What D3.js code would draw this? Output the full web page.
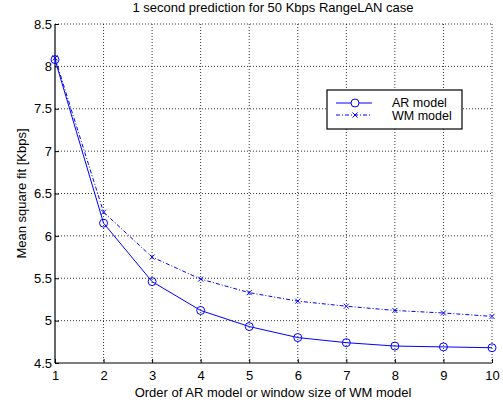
<!DOCTYPE html>
<html>
<head>
<meta charset="utf-8">
<script src="https://cdn.jsdelivr.net/npm/d3@7"></script>
<style>
  body { margin: 0; background: #fff; }
  text { font-family: "Liberation Sans", Arial, sans-serif; fill: #000; }
</style>
</head>
<body>
<script>
// data
var orders = [1, 2, 3, 4, 5, 6, 7, 8, 9, 10];
var arModel = [8.08, 6.15, 5.46, 5.12, 4.93, 4.80, 4.74, 4.70, 4.69, 4.68];
var wmModel = [8.10, 6.28, 5.75, 5.49, 5.33, 5.23, 5.17, 5.12, 5.09, 5.05];
var yTicks = [4.5, 5, 5.5, 6, 6.5, 7, 7.5, 8, 8.5];

var W = 503, H = 405;
// plot box (note: "top" is reserved on window, so use pTop etc)
var pLeft = 55, pRight = 492, pTop = 24, pBottom = 363;
var fs = 13;

var svg = d3.select('body').append('svg')
    .attr('width', W).attr('height', H);

var x = d3.scaleLinear().domain([1, 10]).range([pLeft, pRight]);
var y = d3.scaleLinear().domain([4.5, 8.5]).range([pBottom, pTop]);

// grid (dotted), incl. top and right edges
svg.append('g').selectAll('line').data(orders.slice(1)).enter().append('line')
    .attr('x1', d => x(d)).attr('x2', d => x(d))
    .attr('y1', pTop).attr('y2', pBottom)
    .attr('stroke', '#000').attr('stroke-width', 0.8).attr('stroke-dasharray', '1,2');
svg.append('g').selectAll('line').data(yTicks.slice(1)).enter().append('line')
    .attr('y1', d => y(d)).attr('y2', d => y(d))
    .attr('x1', pLeft).attr('x2', pRight)
    .attr('stroke', '#000').attr('stroke-width', 0.8).attr('stroke-dasharray', '1,2');

// axes (inward ticks, MATLAB style)
var xAxis = d3.axisBottom(x).tickValues(orders).tickSize(-4).tickPadding(8).tickFormat(d3.format('d'));
var yAxis = d3.axisLeft(y).tickValues(yTicks).tickSize(-4).tickPadding(3).tickFormat(d => d);
var gx = svg.append('g').attr('transform', 'translate(0,' + pBottom + ')').call(xAxis);
var gy = svg.append('g').attr('transform', 'translate(' + pLeft + ',0)').call(yAxis);
[gx, gy].forEach(function(g) {
  g.select('.domain').attr('stroke', '#000').attr('stroke-width', 1.2);
  g.selectAll('text').attr('font-size', fs).attr('font-family', '"Liberation Sans", Arial, sans-serif');
  g.selectAll('line').attr('stroke', '#000');
});
gx.select('.domain').attr('d', 'M' + pLeft + ',0H' + pRight);
gy.select('.domain').attr('d', 'M0,' + pBottom + 'V' + pTop);

var blue = '#0000ff';
var line = d3.line().x((d, i) => x(orders[i])).y(d => y(d));

// WM model
svg.append('path').datum(wmModel).attr('d', line)
    .attr('fill', 'none').attr('stroke', blue).attr('stroke-width', 1)
    .attr('stroke-dasharray', '4,2,1,2');
function cross(g, cx, cy) {
  var s = 2.5;
  g.append('path').attr('d', 'M' + (cx - s) + ',' + (cy - s) + 'L' + (cx + s) + ',' + (cy + s) +
      'M' + (cx - s) + ',' + (cy + s) + 'L' + (cx + s) + ',' + (cy - s))
    .attr('stroke', blue).attr('stroke-width', 1);
}
var gw = svg.append('g');
wmModel.forEach((d, i) => cross(gw, x(orders[i]), y(d)));

// AR model
svg.append('path').datum(arModel).attr('d', line)
    .attr('fill', 'none').attr('stroke', blue).attr('stroke-width', 1);
svg.append('g').selectAll('circle').data(arModel).enter().append('circle')
    .attr('cx', (d, i) => x(orders[i])).attr('cy', d => y(d)).attr('r', 4)
    .attr('fill', 'none').attr('stroke', blue).attr('stroke-width', 1);

// legend
var lg = svg.append('g');
lg.append('rect').attr('x', 327).attr('y', 90).attr('width', 135).attr('height', 39)
    .attr('fill', '#fff').attr('stroke', '#000').attr('stroke-width', 1.2);
lg.append('line').attr('x1', 336).attr('x2', 372).attr('y1', 103).attr('y2', 103)
    .attr('stroke', blue).attr('stroke-width', 1);
lg.append('circle').attr('cx', 355).attr('cy', 103).attr('r', 4)
    .attr('fill', '#fff').attr('stroke', blue).attr('stroke-width', 1);
lg.append('line').attr('x1', 336).attr('x2', 372).attr('y1', 115).attr('y2', 115)
    .attr('stroke', blue).attr('stroke-width', 1).attr('stroke-dasharray', '4,2,1,2');
cross(lg, 355, 115);
lg.append('text').attr('x', 392).attr('y', 107).attr('font-size', 12.5).text('AR model');
lg.append('text').attr('x', 392).attr('y', 119.5).attr('font-size', 12.5).text('WM model');

// labels
svg.append('text').attr('x', 273).attr('y', 12).attr('text-anchor', 'middle')
    .attr('font-size', fs).text('1 second prediction for 50 Kbps RangeLAN case');
svg.append('text').attr('x', 273).attr('y', 397).attr('text-anchor', 'middle')
    .attr('font-size', fs).text('Order of AR model or window size of WM model');
svg.append('text').attr('transform', 'translate(26,' + ((pTop + pBottom) / 2) + ') rotate(-90)')
    .attr('text-anchor', 'middle').attr('font-size', fs).text('Mean square fit [Kbps]');
</script>
</body>
</html>
